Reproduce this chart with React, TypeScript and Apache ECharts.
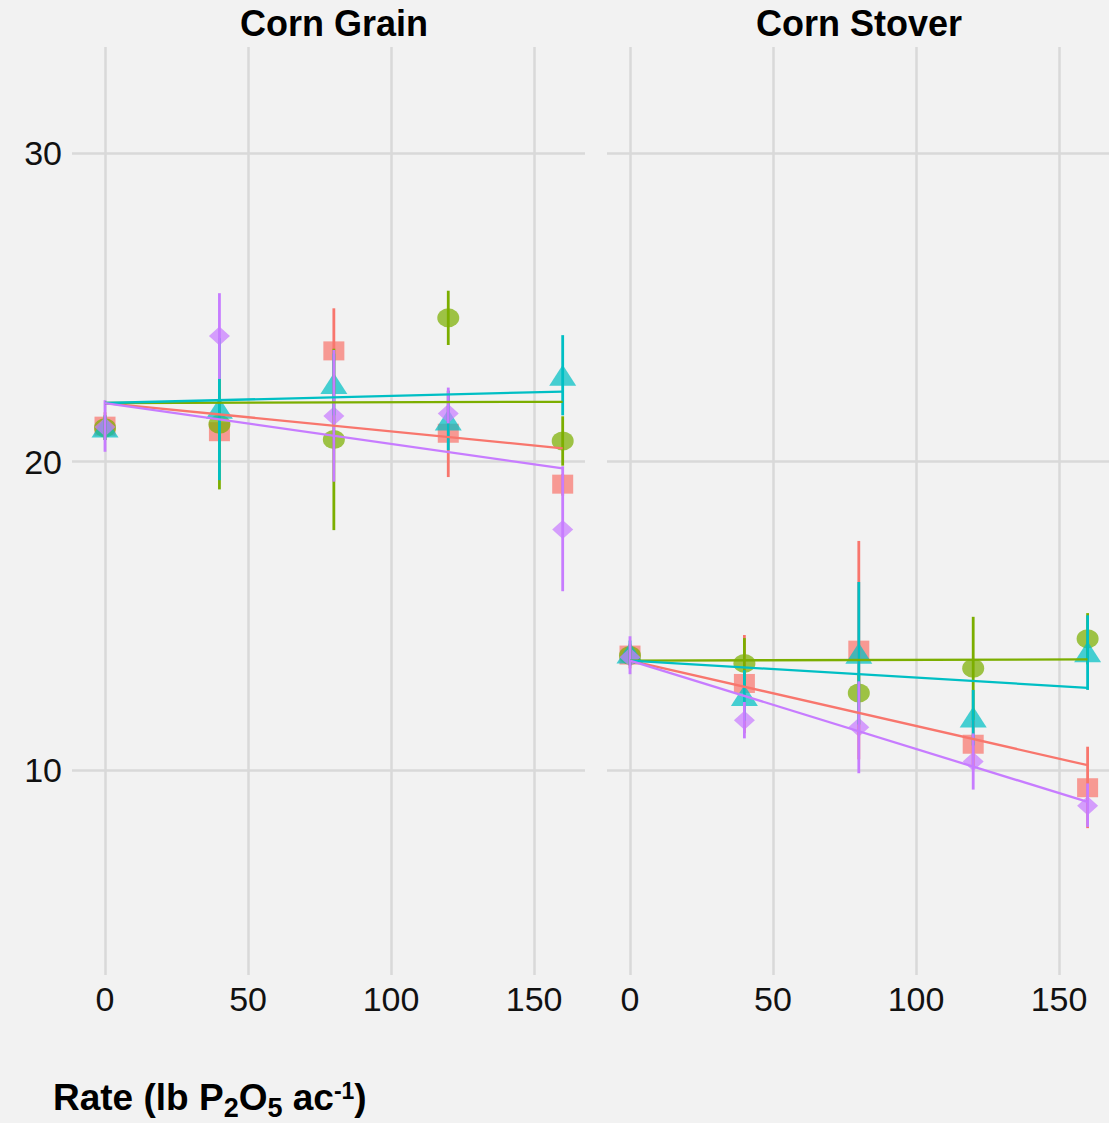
import React, { useEffect, useRef } from 'react';
import * as echarts from 'echarts';

// Fertilizer rates applied (lb P2O5 per acre)
const rates = [0, 40, 80, 120, 160];
const panelTitles = ['Corn Grain', 'Corn Stover'];
const xTickValues = [0, 50, 100, 150];
const yTickValues = [10, 20, 30];

// Corn grain: group means with lower / upper error bar limits
const grainSquareMean = [21.15, 20.97, 23.59, 20.92, 19.27];
const grainSquareLo = [20.7, 20.0, 22.2, 19.5, 18.9];
const grainSquareHi = [21.6, 21.9, 24.97, 22.3, 19.6];
const grainCircleMean = [21.1, 21.21, 20.72, 24.66, 20.67];
const grainCircleLo = [20.7, 19.1, 17.78, 23.78, 19.87];
const grainCircleHi = [21.5, 23.3, 23.66, 25.54, 21.47];
const grainTriangleMean = [21.12, 21.73, 22.53, 21.35, 22.8];
const grainTriangleLo = [20.7, 19.4, 21.5, 20.37, 21.5];
const grainTriangleHi = [21.5, 24.0, 23.5, 22.3, 24.1];
const grainDiamondMean = [21.12, 24.07, 21.48, 21.56, 17.8];
const grainDiamondLo = [20.32, 22.68, 19.35, 21.24, 15.8];
const grainDiamondHi = [21.99, 25.46, 23.62, 22.4, 19.85];
// Corn grain fitted lines: value at rate 0 and at rate 160
const grainFitStart = [21.9, 21.9, 21.9, 21.9];
const grainFitEnd = [20.43, 21.94, 22.27, 19.78];

// Corn stover: group means with lower / upper error bar limits
const stoverSquareMean = [13.73, 12.81, 13.89, 10.84, 9.43];
const stoverSquareLo = [13.3, 11.2, 10.35, 10.1, 8.12];
const stoverSquareHi = [14.1, 14.38, 17.43, 11.6, 10.76];
const stoverCircleMean = [13.72, 13.46, 12.5, 13.3, 14.26];
const stoverCircleLo = [13.4, 12.64, 11.9, 11.63, 13.43];
const stoverCircleHi = [14.0, 14.28, 13.1, 14.97, 15.09];
const stoverTriangleMean = [13.8, 12.42, 13.79, 11.72, 13.84];
const stoverTriangleLo = [13.4, 11.6, 11.48, 10.8, 12.6];
const stoverTriangleHi = [14.2, 13.24, 16.1, 12.6, 15.02];
const stoverDiamondMean = [13.66, 11.62, 11.39, 10.28, 8.85];
const stoverDiamondLo = [13.11, 11.03, 9.9, 9.37, 8.16];
const stoverDiamondHi = [14.34, 12.21, 12.88, 11.19, 9.57];
// Corn stover fitted lines: value at rate 0 and at rate 160
const stoverFitStart = [13.55, 13.55, 13.55, 13.55];
const stoverFitEnd = [10.16, 13.59, 12.67, 8.97];

// x-axis title pieces: [text, kind] where kind is main / sub / sup
const xTitlePieces: [string, string][] = [
  ['Rate (lb P', 'main'],
  ['2', 'sub'],
  ['O', 'main'],
  ['5', 'sub'],
  [' ac', 'main'],
  ['-1', 'sup'],
  [')', 'main'],
];

const ELLIPSE = 'path://M0,50A50,50,0,1,1,100,50A50,50,0,1,1,0,50Z';
const groupStyles = [
  { name: 'Group 1', color: '#F8766D', symbol: 'rect', size: [21, 19] },
  { name: 'Group 2', color: '#7CAE00', symbol: ELLIPSE, size: [22, 19] },
  { name: 'Group 3', color: '#00BFC4', symbol: 'triangle', size: [27, 21] },
  { name: 'Group 4', color: '#C77CFF', symbol: 'diamond', size: [21, 19] },
];

const panels = [
  {
    mean: [grainSquareMean, grainCircleMean, grainTriangleMean, grainDiamondMean],
    lo: [grainSquareLo, grainCircleLo, grainTriangleLo, grainDiamondLo],
    hi: [grainSquareHi, grainCircleHi, grainTriangleHi, grainDiamondHi],
    fitStart: grainFitStart,
    fitEnd: grainFitEnd,
  },
  {
    mean: [stoverSquareMean, stoverCircleMean, stoverTriangleMean, stoverDiamondMean],
    lo: [stoverSquareLo, stoverCircleLo, stoverTriangleLo, stoverDiamondLo],
    hi: [stoverSquareHi, stoverCircleHi, stoverTriangleHi, stoverDiamondHi],
    fitStart: stoverFitStart,
    fitEnd: stoverFitEnd,
  },
];

const FONT = '"Liberation Sans", Arial, Helvetica, sans-serif';
const GRID_COLOR = '#d9d9d9';
const BG = '#f2f2f2';

// size and vertical centre for each piece of the x-axis title
const pieceStyle: Record<string, { size: number; y: number }> = {
  main: { size: 37, y: 1097 },
  sub: { size: 27, y: 1108 },
  sup: { size: 23, y: 1091 },
};

function measure(text: string, size: number): number {
  const ctx = document.createElement('canvas').getContext('2d');
  if (!ctx) return text.length * size * 0.55;
  ctx.font = `bold ${size}px ${FONT}`;
  return ctx.measureText(text).width;
}

function xTitleGraphic() {
  let x = 53;
  const children = xTitlePieces.map(([text, kind]) => {
    const st = pieceStyle[kind];
    const el = {
      type: 'text',
      x,
      y: st.y,
      style: {
        text,
        fontSize: st.size,
        fontWeight: 'bold',
        fontFamily: FONT,
        fill: '#000',
        align: 'left',
        verticalAlign: 'middle',
      },
    };
    x += measure(text, st.size);
    return el;
  });
  return { type: 'group', children };
}

function buildOption() {
  const series: any[] = [];

  panels.forEach((panel, p) => {
    // panel grid lines
    series.push({
      type: 'line',
      xAxisIndex: p,
      yAxisIndex: p,
      data: [],
      z: 1,
      silent: true,
      markLine: {
        z: 1,
        silent: true,
        symbol: ['none', 'none'],
        label: { show: false },
        emphasis: { disabled: true },
        lineStyle: { color: GRID_COLOR, width: 2.5, type: 'solid' },
        data: [
          ...xTickValues.map((v) => ({ xAxis: v })),
          ...yTickValues.map((v) => ({ yAxis: v })),
        ],
      },
    });

    groupStyles.forEach((g, k) => {
      series.push({
        type: 'scatter',
        name: g.name,
        xAxisIndex: p,
        yAxisIndex: p,
        z: 2,
        symbol: g.symbol,
        symbolSize: g.size,
        itemStyle: { color: g.color, opacity: 0.72 },
        data: rates.map((r, i) => [r, panel.mean[k][i]]),
      });
    });

    groupStyles.forEach((g, k) => {
      series.push({
        type: 'custom',
        name: g.name,
        xAxisIndex: p,
        yAxisIndex: p,
        z: 3,
        encode: { x: 0, y: [1, 2] },
        data: rates.map((r, i) => [r, panel.lo[k][i], panel.hi[k][i]]),
        renderItem: (params: any, api: any) => {
          const a = api.coord([api.value(0), api.value(1)]);
          const b = api.coord([api.value(0), api.value(2)]);
          return {
            type: 'line',
            shape: { x1: a[0], y1: a[1], x2: b[0], y2: b[1] },
            style: { stroke: g.color, lineWidth: 2.8 },
          };
        },
      });
    });

    groupStyles.forEach((g, k) => {
      series.push({
        type: 'line',
        name: g.name,
        xAxisIndex: p,
        yAxisIndex: p,
        z: 4,
        symbol: 'none',
        showSymbol: false,
        lineStyle: { color: g.color, width: 2.3 },
        data: [
          [rates[0], panel.fitStart[k]],
          [rates[rates.length - 1], panel.fitEnd[k]],
        ],
      });
    });
  });

  const xAxisBase = {
    type: 'value',
    axisLine: { show: false },
    axisTick: { show: false },
    splitLine: { show: false },
    axisLabel: {
      customValues: xTickValues,
      margin: 7,
      fontSize: 34,
      lineHeight: 34,
      fontFamily: FONT,
      color: '#111',
    },
  };
  const yAxisBase = {
    type: 'value',
    min: 3.36,
    max: 33.44,
    axisLine: { show: false },
    axisTick: { show: false },
    splitLine: { show: false },
  };

  return {
    animation: false,
    backgroundColor: BG,
    grid: [
      { left: 72, top: 47, width: 513, height: 928 },
      { left: 607, top: 47, width: 502, height: 928 },
    ],
    xAxis: [
      { ...xAxisBase, gridIndex: 0, min: -11.54, max: 167.8 },
      { ...xAxisBase, gridIndex: 1, min: -8.04, max: 167.48 },
    ],
    yAxis: [
      {
        ...yAxisBase,
        gridIndex: 0,
        axisLabel: {
          customValues: yTickValues,
          margin: 10,
          fontSize: 34,
          fontFamily: FONT,
          color: '#111',
        },
      },
      { ...yAxisBase, gridIndex: 1, axisLabel: { show: false } },
    ],
    graphic: [
      {
        type: 'text',
        x: 334,
        y: 23,
        style: {
          text: panelTitles[0],
          fontSize: 36,
          fontWeight: 'bold',
          fontFamily: FONT,
          fill: '#000',
          align: 'center',
          verticalAlign: 'middle',
        },
      },
      {
        type: 'text',
        x: 859,
        y: 23,
        style: {
          text: panelTitles[1],
          fontSize: 36,
          fontWeight: 'bold',
          fontFamily: FONT,
          fill: '#000',
          align: 'center',
          verticalAlign: 'middle',
        },
      },
      xTitleGraphic(),
    ],
    series,
  };
}

export default function App() {
  const ref = useRef<HTMLDivElement>(null);

  useEffect(() => {
    document.body.style.margin = '0';
    document.body.style.background = BG;
    if (!ref.current) return;
    const chart = echarts.init(ref.current, undefined, { renderer: 'svg' });
    chart.setOption(buildOption() as any);
    return () => chart.dispose();
  }, []);

  return <div ref={ref} style={{ width: 1109, height: 1123 }} />;
}
